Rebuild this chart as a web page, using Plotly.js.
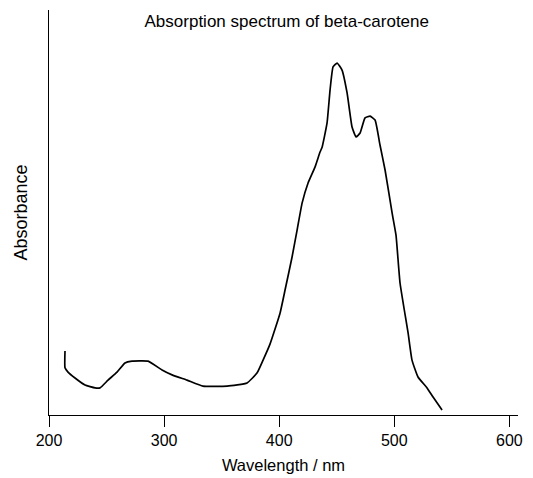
<!DOCTYPE html>
<html>
<head>
<meta charset="utf-8">
<script src="https://cdn.plot.ly/plotly-3.0.1.min.js"></script>
<style>html,body{margin:0;padding:0;background:#fff;}#chart{width:533px;height:478px;}</style>
</head>
<body>
<div id="chart"></div>
<script>
// Wavelength (nm)
const wavelength = [213.9, 213.9, 216.5, 222.6, 231.3, 240.0, 244.3, 251.3, 259.1, 266.0,
  272.1, 286.0, 298.2, 306.9, 319.9, 333.8, 354.7, 372.1, 380.7, 386.0,
  392.1, 400.8, 405.1, 411.2, 415.6, 419.9, 425.1, 431.2, 435.5, 437.3,
  441.6, 444.2, 446.8, 450.3, 454.6, 459.0, 463.3, 466.8, 470.3, 474.6,
  479.0, 483.3, 487.6, 492.0, 498.1, 501.5, 505.0, 512.0, 515.4, 520.6,
  528.5, 533.7, 541.5];
// Absorbance (relative, peak = 1)
const absorbance = [0.182, 0.134, 0.122, 0.105, 0.085, 0.077, 0.077, 0.099, 0.122, 0.148,
  0.153, 0.153, 0.128, 0.114, 0.099, 0.082, 0.082, 0.091, 0.119, 0.156,
  0.202, 0.290, 0.355, 0.449, 0.526, 0.602, 0.659, 0.705, 0.747, 0.761,
  0.830, 0.923, 0.989, 1.000, 0.980, 0.915, 0.818, 0.790, 0.801, 0.844,
  0.849, 0.838, 0.767, 0.696, 0.574, 0.511, 0.375, 0.233, 0.156, 0.108,
  0.077, 0.051, 0.014];
const xTicks = [200, 300, 400, 500, 600];

const FONT = 'Liberation Sans, Arial, sans-serif';

const trace = {
  x: wavelength,
  y: absorbance,
  type: 'scatter',
  mode: 'lines',
  line: {color: '#000000', width: 1.7, shape: 'spline', smoothing: 0.4},
  hoverinfo: 'skip'
};

const layout = {
  width: 533,
  height: 478,
  margin: {l: 49, r: 15, t: 10, b: 63},
  paper_bgcolor: '#ffffff',
  plot_bgcolor: '#ffffff',
  showlegend: false,
  font: {family: FONT, color: '#000000', size: 16},
  title: {
    text: 'Absorption spectrum of beta-carotene',
    font: {family: FONT, size: 17, color: '#000000'},
    xref: 'container', yref: 'container',
    x: 0.538, y: 0.956, xanchor: 'center', yanchor: 'middle'
  },
  xaxis: {
    range: [200, 607.5],
    tickvals: xTicks,
    ticktext: xTicks.map(String),
    ticks: 'outside',
    ticklen: 11,
    tickwidth: 1,
    tickcolor: '#000000',
    showline: true,
    linecolor: '#000000',
    linewidth: 1,
    showgrid: false,
    zeroline: false,
    tickfont: {family: FONT, size: 16, color: '#000000'},
    title: {text: 'Wavelength / nm', font: {family: FONT, size: 16.5, color: '#000000'}, standoff: 11}
  },
  yaxis: {
    range: [0, 1.1506],
    showline: true,
    linecolor: '#000000',
    linewidth: 1,
    showticklabels: false,
    ticks: '',
    showgrid: false,
    zeroline: false,
    title: {text: 'Absorbance', font: {family: FONT, size: 18, color: '#000000'}, standoff: 15}
  }
};

Plotly.newPlot('chart', [trace], layout, {staticPlot: true, displayModeBar: false});
</script>
</body>
</html>
